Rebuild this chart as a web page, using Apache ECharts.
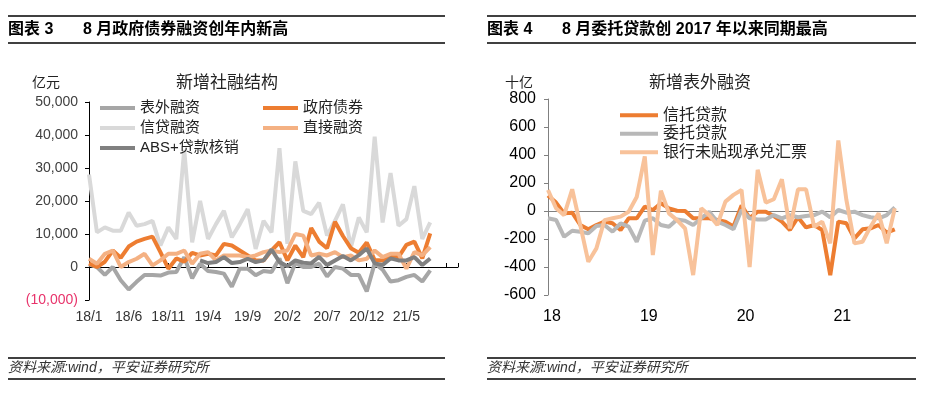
<!DOCTYPE html>
<html>
<head>
<meta charset="utf-8">
<script src="https://cdn.jsdelivr.net/npm/echarts@6/dist/echarts.min.js"></script>
<style>
  html, body { margin: 0; padding: 0; background: #fff; }
  #main { width: 938px; height: 396px; }
</style>
</head>
<body>
<div id="main"></div>
<script>
  // 图表3 新增社融结构 (亿元), 2018/1 - 2021/8
  var leftTickLabels = ['18/1', '18/6', '18/11', '19/4', '19/9', '20/2', '20/7', '20/12', '21/5'];
  var offBalance = [800, 0, -2400, 0, -4000, -6800, -4500, -2400, -2400, -2600, -1700, -1500, 3000, -3400, 1000, -1200, -1500, -2000, -6000, -500, -500, -2500, -1200, -1500, 2600, -4900, 1200, 0, 0, 1000, -2900, 0, -500, -2400, -2400, -7400, 1100, -800, -4400, -4000, -3000, -2400, -4400, -1000];
  var govBonds = [1100, 0, 1600, 5000, 2800, 6200, 7700, 8500, 9200, 4500, -500, 2600, 1600, 4300, 3500, 4000, 3500, 7000, 6500, 5000, 3500, 2000, 2000, 5000, 7500, 2000, 6500, 3000, 11800, 7700, 5700, 13700, 9400, 5700, 4300, 7400, 2100, 2000, 3000, 3000, 6700, 7700, 2600, 10200];
  var creditLoans = [28000, 10500, 12000, 11000, 11000, 16500, 12500, 13000, 14000, 6500, 12000, 8500, 35500, 7500, 20000, 8500, 13000, 17000, 9000, 13000, 17500, 5500, 14000, 10500, 36000, 7000, 32000, 17000, 16000, 19500, 9500, 14000, 19000, 6000, 15000, 10500, 39500, 13500, 28500, 12500, 14500, 24500, 8500, 13500];
  var directFin = [2500, 1000, 4000, 5000, 0, 1500, 2500, 4000, 500, 2000, 4000, 4000, 5000, 1000, 4000, 4500, 2000, 3500, 3500, 3500, 3000, 3500, 4500, 5000, 4500, 5000, 10000, 9500, 3500, 4000, 3500, 4500, 3000, 3500, 2000, 2500, 5000, 3000, 4000, 4000, -500, 4500, 3500, 6000];
  var absWriteOff = [null, null, null, null, null, null, null, null, null, null, null, null, null, null, 2000, 1200, 1500, 3000, 1200, 1500, 2500, 1500, 2000, 5300, 1500, 200, 2000, 1300, 1100, 3100, 600, 2000, 3300, 2000, 3600, 5600, 1100, 600, 2600, 2000, 2000, 3000, 600, 2600];

  // 图表4 新增表外融资 (十亿)
  var rightTickLabels = ['18', '19', '20', '21'];
  var trustLoans = [110, 60, -17, -12, -100, -131, -100, -76, -88, -136, -52, -52, 31, 7, 55, 19, 2, 0, -52, -52, -52, -64, -76, -110, 40, -50, -5, -5, -36, -76, -136, -45, -117, -100, -136, -458, -76, -88, -196, -131, -124, -100, -155, -131];
  var entrustLoans = [-52, -64, -184, -141, -148, -160, -107, -100, -148, -88, -112, -220, -69, -52, -100, -112, -60, -69, -100, -52, -5, -76, -100, -131, 7, -52, -60, -60, -29, -52, -29, -45, -36, -29, -5, -45, 7, -12, -5, -29, -45, -52, -29, 26];
  var bankAccept = [150, 20, -30, 155, -100, -363, -267, -65, -52, -40, -5, 100, 390, -315, 145, -17, -65, -125, -458, 20, -30, -100, 67, 115, 150, -400, 294, 60, 84, 227, -124, 155, 155, -112, -76, -231, 504, 79, -231, -220, -112, -17, -231, 19];

  var CJK = "'Noto Sans CJK SC', sans-serif";
  var MIX = "'Liberation Sans', 'Noto Sans CJK SC', sans-serif";

  function pairs(arr) {
    var out = [];
    arr.forEach(function (v, i) { if (v !== null) out.push([i, v]); });
    return out;
  }
  function thousands(v) {
    return String(v).replace(/\B(?=(\d{3})+(?!\d))/g, ',');
  }
  function hline(x1, x2, y) {
    return { type: 'line', silent: true, shape: { x1: x1, y1: y, x2: x2, y2: y },
             style: { stroke: '#000', lineWidth: 1.5 } };
  }
  function text(x, y, str, font, opt) {
    opt = opt || {};
    return { type: 'text', silent: true, x: x, y: y,
             style: { text: str, font: font, fill: opt.fill || '#000',
                      textAlign: opt.align || 'left', textVerticalAlign: 'middle' } };
  }

  var myChart = echarts.init(document.getElementById('main'), null, { renderer: 'canvas' });

  function lineSeries(name, arr, color, xi, yi, width, z) {
    return {
      name: name, type: 'line', xAxisIndex: xi, yAxisIndex: yi,
      data: pairs(arr), symbol: 'none', showSymbol: false, z: z,
      lineStyle: { color: color, width: width }, itemStyle: { color: color }
    };
  }

  var option = {
    animation: false,
    backgroundColor: '#fff',
    graphic: [
      hline(8, 445, 16), hline(8, 445, 43),
      hline(487, 916, 16), hline(487, 916, 43),
      text(8, 30, '图表 3', 'bold 16px ' + MIX),
      text(83, 30, '8 月政府债券融资创年内新高', 'bold 16px ' + MIX),
      text(487, 30, '图表 4', 'bold 16px ' + MIX),
      text(562, 30, '8 月委托贷款创 2017 年以来同期最高', 'bold 16px ' + MIX),
      text(32, 82, '亿元', '14px ' + CJK, { fill: '#222' }),
      text(227, 82, '新增社融结构', '17px ' + CJK, { fill: '#222', align: 'center' }),
      text(505, 82, '十亿', '14px ' + CJK, { fill: '#222' }),
      text(700, 82, '新增表外融资', '17px ' + CJK, { fill: '#222', align: 'center' }),
      hline(8, 445, 358), hline(8, 445, 379),
      hline(487, 916, 358), hline(487, 916, 379),
      text(8, 368.5, '资料来源:wind，平安证券研究所', 'italic 14px ' + MIX, { fill: '#333' }),
      text(487, 368.5, '资料来源:wind，平安证券研究所', 'italic 14px ' + MIX, { fill: '#333' })
    ],
    legend: [
      { data: ['表外融资', '信贷融资', 'ABS+贷款核销'], orient: 'vertical', left: 95, top: 93,
        icon: 'rect', itemWidth: 35, itemHeight: 4, itemGap: 0, selectedMode: false,
        textStyle: { fontSize: 15, color: '#222', fontFamily: MIX, lineHeight: 20 } },
      { data: ['政府债券', '直接融资'], orient: 'vertical', left: 258, top: 93,
        icon: 'rect', itemWidth: 35, itemHeight: 4, itemGap: 0, selectedMode: false,
        textStyle: { fontSize: 15, color: '#222', fontFamily: MIX, lineHeight: 20 } },
      { data: ['信托贷款', '委托贷款', '银行未贴现承兑汇票'], orient: 'vertical', left: 615, top: 101,
        icon: 'rect', itemWidth: 38, itemHeight: 4, itemGap: 0, selectedMode: false,
        textStyle: { fontSize: 16, color: '#222', fontFamily: MIX, lineHeight: 18.5 } }
    ],
    grid: [
      { left: 89, top: 102, width: 369, height: 198 },
      { left: 548, top: 99, width: 350, height: 196 }
    ],
    xAxis: [
      { gridIndex: 0, type: 'value', min: 0, max: 46.5, interval: 5, position: 'bottom',
        axisLine: { show: false, onZero: false }, axisTick: { show: false }, splitLine: { show: false },
        axisLabel: { fontSize: 14, color: '#333', margin: 10, fontFamily: MIX,
                     formatter: function (v) { return leftTickLabels[v / 5] || ''; } } },
      { gridIndex: 0, type: 'value', min: 0, max: 46.5, interval: 5, position: 'bottom',
        axisLine: { show: true, onZero: true, lineStyle: { color: '#000', width: 1 } },
        axisTick: { show: true, inside: true, length: 4, lineStyle: { color: '#000' } },
        axisLabel: { show: false }, splitLine: { show: false } },
      { gridIndex: 1, type: 'value', min: 0, max: 43.4, interval: 12, position: 'bottom',
        axisLine: { show: false, onZero: false }, axisTick: { show: false }, splitLine: { show: false },
        axisLabel: { fontSize: 16, color: '#000', margin: 14, fontFamily: MIX, padding: [0, 0, 0, 8],
                     formatter: function (v) { return rightTickLabels[v / 12] || ''; } } },
      { gridIndex: 1, type: 'value', min: 0, max: 43.4, interval: 12, position: 'bottom',
        axisLine: { show: true, onZero: true, lineStyle: { color: '#808080', width: 1 } },
        axisTick: { show: false }, axisLabel: { show: false }, splitLine: { show: false } }
    ],
    yAxis: [
      { gridIndex: 0, type: 'value', min: -10000, max: 50000, interval: 10000,
        axisLine: { show: true, lineStyle: { color: '#000' } },
        axisTick: { show: true, length: 4, lineStyle: { color: '#000' } },
        splitLine: { show: false },
        axisLabel: { fontSize: 14, color: '#404040', margin: 11, fontFamily: MIX,
                     formatter: function (v) {
                       return v < 0 ? '{neg|(' + thousands(-v) + ')}' : thousands(v);
                     },
                     rich: { neg: { color: '#e8336b', fontSize: 14, fontFamily: MIX } } } },
      { gridIndex: 1, type: 'value', min: -600, max: 800, interval: 200,
        axisLine: { show: true, lineStyle: { color: '#808080' } },
        axisTick: { show: true, length: 4, lineStyle: { color: '#808080' } },
        splitLine: { show: false },
        axisLabel: { fontSize: 16, color: '#000', margin: 12, fontFamily: MIX } }
    ],
    series: [
      lineSeries('信贷融资', creditLoans, '#d9d9d9', 0, 0, 4, 2),
      lineSeries('表外融资', offBalance, '#a6a6a6', 0, 0, 4, 3),
      lineSeries('政府债券', govBonds, '#ed7d31', 0, 0, 4, 4),
      lineSeries('直接融资', directFin, '#f4b183', 0, 0, 4, 5),
      lineSeries('ABS+贷款核销', absWriteOff, '#808080', 0, 0, 4, 6),
      lineSeries('信托贷款', trustLoans, '#ed7d31', 2, 1, 4, 2),
      lineSeries('委托贷款', entrustLoans, '#b8b8b8', 2, 1, 4, 3),
      lineSeries('银行未贴现承兑汇票', bankAccept, '#f8c29a', 2, 1, 4, 4)
    ]
  };

  myChart.setOption(option);
</script>
</body>
</html>
